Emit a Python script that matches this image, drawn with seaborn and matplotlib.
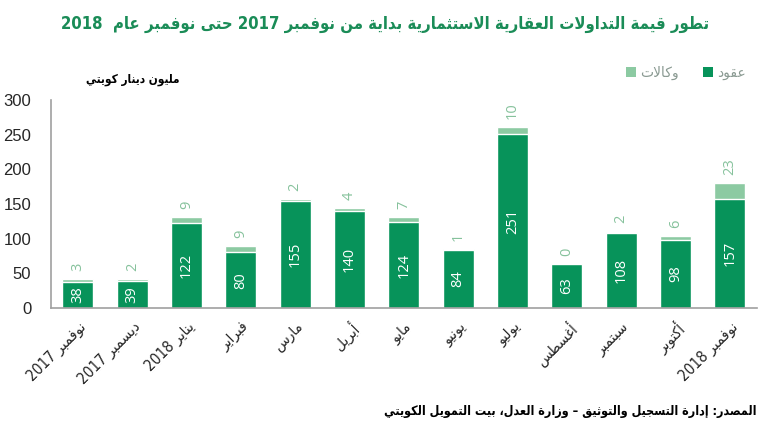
import re
import numpy as np
import pandas as pd
import matplotlib
matplotlib.use("Agg")
import matplotlib.pyplot as plt
import seaborn as sns
from matplotlib.patches import Patch

# ---------------- data ----------------
months = ["نوفمبر 2017", "ديسمبر 2017", "يناير 2018", "فبراير", "مارس", "أبريل",
          "مايو", "يونيو", "يوليو", "أغسطس", "سبتمبر", "أكتوبر", "نوفمبر 2018"]
contracts = [38, 39, 122, 80, 155, 140, 124, 84, 251, 63, 108, 98, 157]   # عقود
agencies = [3, 2, 9, 9, 2, 4, 7, 1, 10, 0, 2, 6, 23]                      # وكالات
yticks = [0, 50, 100, 150, 200, 250, 300]

title = "تطور قيمة التداولات العقارية الاستثمارية بداية من نوفمبر 2017 حتى نوفمبر عام  2018"
unit = "مليون دينار كويتي"
source = "المصدر: إدارة التسجيل والتوثيق – وزارة العدل، بيت التمويل الكويتي"
legend_contracts = "عقود"
legend_agencies = "وكالات"

# ---------------- simple Arabic shaping + RTL ordering ----------------
_T = {
    '\u0621': (0xFE80, 1), '\u0622': (0xFE81, 2), '\u0623': (0xFE83, 2), '\u0624': (0xFE85, 2),
    '\u0625': (0xFE87, 2), '\u0626': (0xFE89, 4), '\u0627': (0xFE8D, 2), '\u0628': (0xFE8F, 4),
    '\u0629': (0xFE93, 2), '\u062A': (0xFE95, 4), '\u062B': (0xFE99, 4), '\u062C': (0xFE9D, 4),
    '\u062D': (0xFEA1, 4), '\u062E': (0xFEA5, 4), '\u062F': (0xFEA9, 2), '\u0630': (0xFEAB, 2),
    '\u0631': (0xFEAD, 2), '\u0632': (0xFEAF, 2), '\u0633': (0xFEB1, 4), '\u0634': (0xFEB5, 4),
    '\u0635': (0xFEB9, 4), '\u0636': (0xFEBD, 4), '\u0637': (0xFEC1, 4), '\u0638': (0xFEC5, 4),
    '\u0639': (0xFEC9, 4), '\u063A': (0xFECD, 4), '\u0641': (0xFED1, 4), '\u0642': (0xFED5, 4),
    '\u0643': (0xFED9, 4), '\u0644': (0xFEDD, 4), '\u0645': (0xFEE1, 4), '\u0646': (0xFEE5, 4),
    '\u0647': (0xFEE9, 4), '\u0648': (0xFEED, 2), '\u0649': (0xFEEF, 2), '\u064A': (0xFEF1, 4),
}
_LA = {'\u0622': (0xFEF5, 0xFEF6), '\u0623': (0xFEF7, 0xFEF8),
       '\u0625': (0xFEF9, 0xFEFA), '\u0627': (0xFEFB, 0xFEFC)}


def _shape(s):
    out, prev_join, i, n = [], False, 0, len(s)
    while i < n:
        c = s[i]
        if c not in _T:
            out.append(c)
            prev_join = False
            i += 1
            continue
        if c == '\u0644' and i + 1 < n and s[i + 1] in _LA:
            iso, fin = _LA[s[i + 1]]
            out.append(chr(fin if prev_join else iso))
            prev_join = False
            i += 2
            continue
        base, k = _T[c]
        nxt = s[i + 1] if i + 1 < n else ''
        can_next = k == 4 and nxt in _T
        if k == 1:
            f = base
        elif prev_join and can_next:
            f = base + 3
        elif prev_join:
            f = base + 1
        elif can_next:
            f = base + 2
        else:
            f = base
        out.append(chr(f))
        prev_join = k == 4
        i += 1
    return ''.join(out)


def ar(s):
    tokens = re.findall(r'[0-9A-Za-z.]+|.', _shape(s))
    return ''.join(reversed(tokens))


# ---------------- style ----------------
DARK = "#07935a"
LIGHT = "#8ccaa2"
LABEL_LIGHT = "#86c29c"
TITLE_GREEN = "#1a8c57"

sns.set_theme(style="white")
plt.rcParams['font.family'] = ['DejaVu Sans']

df = pd.DataFrame({
    "month": [ar(m) for m in months],
    "contracts": contracts,
    "total": [c + a for c, a in zip(contracts, agencies)],
})
order = list(df["month"])

fig = plt.figure(figsize=(7.7, 4.3), dpi=100)
ax = fig.add_axes([0.066, 0.284, 0.917, 0.483])

sns.barplot(data=df, x="month", y="total", order=order, color=LIGHT,
            saturation=1, width=0.57, ax=ax, errorbar=None)
sns.barplot(data=df, x="month", y="contracts", order=order, color=DARK,
            saturation=1, width=0.57, ax=ax, errorbar=None)

ax.set_xlim(-0.5, 12.5)
ax.set_ylim(0, 300)
ax.set_yticks(yticks)
ax.set_yticklabels([str(t) for t in yticks], fontsize=12, family=['Liberation Sans', 'DejaVu Sans'])
ax.set_xlabel("")
ax.set_ylabel("")
ax.set_xticks(range(len(order)))
ax.set_xticklabels(order, rotation=45, ha="right", rotation_mode="anchor", fontsize=11,
                   fontstretch="condensed")
ax.tick_params(axis="x", length=0, pad=8)
ax.tick_params(axis="y", length=0, pad=14)
for s in ["top", "right"]:
    ax.spines[s].set_visible(False)
for s in ["left", "bottom"]:
    ax.spines[s].set_color("#a0a0a0")
    ax.spines[s].set_linewidth(1.2)

for i, (c, a) in enumerate(zip(contracts, agencies)):
    ax.text(i, c / 2, str(c), rotation=90, ha="center", va="center",
            color="white", fontsize=10.5, family=['Open Sans', 'DejaVu Sans'])
    ax.annotate(str(a), (i, c + a), xytext=(0, 6), textcoords="offset points",
                rotation=90, ha="center", va="bottom", color=LABEL_LIGHT,
                fontsize=10.5, family=['Open Sans', 'DejaVu Sans'])

fig.text(0.5, 0.945, ar(title), ha="center", va="center", fontsize=12,
         fontweight="bold", color=TITLE_GREEN, fontstretch="condensed")
fig.text(0.173, 0.814, ar(unit), ha="center", va="center", fontsize=8.5,
         fontweight="bold", color="black", fontstretch="condensed")
fig.text(0.983, 0.044, ar(source), ha="right", va="center", fontsize=9,
         fontweight="bold", color="black", fontstretch="condensed")

handles = [Patch(facecolor=LIGHT, edgecolor="none"), Patch(facecolor=DARK, edgecolor="none")]
fig.legend(handles, [ar(legend_agencies), ar(legend_contracts)], loc="center right",
           bbox_to_anchor=(0.985, 0.83), ncol=2, frameon=False, fontsize=10,
           handlelength=0.7, handleheight=0.7, columnspacing=1.8, handletextpad=0.3,
           labelcolor="#8a9a92")

fig.savefig("out.png", dpi=100)
